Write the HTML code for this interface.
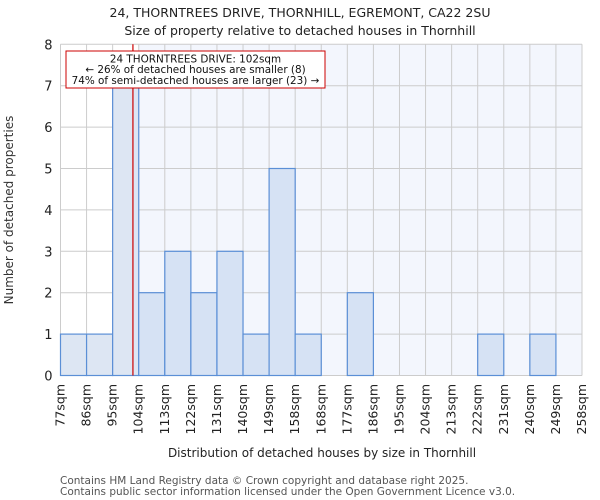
<!DOCTYPE html>
<html><head><meta charset="utf-8"><style>body{margin:0;background:#fff}svg{display:block;font-family:"DejaVu Sans","Liberation Sans",sans-serif}</style></head>
<body>
<svg id="chart" width="600" height="500" xmlns="http://www.w3.org/2000/svg">
<text x="300" y="17" text-anchor="middle" font-size="12.5" fill="#222">24, THORNTREES DRIVE, THORNHILL, EGREMONT, CA22 2SU</text>
<text x="300" y="35" text-anchor="middle" font-size="12.5" fill="#222">Size of property relative to detached houses in Thornhill</text>
<g id="plot"></g>
<text x="322" y="457" text-anchor="middle" font-size="12" fill="#222">Distribution of detached houses by size in Thornhill</text>
<text transform="translate(13,210) rotate(-90)" text-anchor="middle" font-size="12" fill="#333">Number of detached properties</text>
<text x="60" y="484" font-size="10.5" fill="#555">Contains HM Land Registry data © Crown copyright and database right 2025.</text>
<text x="60" y="495" font-size="10.5" fill="#555">Contains public sector information licensed under the Open Government Licence v3.0.</text>
</svg>
<script>
const categories=["77sqm","86sqm","95sqm","104sqm","113sqm","122sqm","131sqm","140sqm","149sqm","158sqm","168sqm","177sqm","186sqm","195sqm","204sqm","213sqm","222sqm","231sqm","240sqm","249sqm","258sqm"];
const counts=[1,1,7,2,3,2,3,1,5,1,0,2,0,0,0,0,1,0,1,0];
const yTicks=[0,1,2,3,4,5,6,7,8];
const propertySize=102;
const binStart=77,binWidth=9;
const X0=60.5,X1=582,Y0=375.5,YT=44.3,NS="http://www.w3.org/2000/svg";
const nb=counts.length,bw=(X1-X0)/nb;
const xi=i=>X0+i*bw;
const xv=v=>X0+(v-binStart)/binWidth*bw;
const y=v=>Y0-(v/8)*(Y0-YT);
const g=document.getElementById('plot');
function el(t,a){const e=document.createElementNS(NS,t);for(const k in a)e.setAttribute(k,a[k]);g.appendChild(e);return e;}
const px=xv(propertySize);
const shadeStart=xi(Math.ceil((propertySize-binStart)/binWidth));
let bg=el('rect',{x:shadeStart,y:YT,width:X1-shadeStart,height:Y0-YT,fill:'#f3f6fd'});


for(let i=0;i<=nb;i++){let l=el('line',{x1:xi(i),x2:xi(i),y1:YT,y2:Y0,stroke:'#cccccc','stroke-width':1});

}
yTicks.forEach(t=>{let l=el('line',{x1:X0,x2:X1,y1:y(t),y2:y(t),stroke:'#cccccc','stroke-width':1});


let tx=el('text',{x:X0-8,y:y(t)+5,'text-anchor':'end','font-size':13,fill:'#222'});tx.textContent=t;

});
counts.forEach((c,i)=>{if(c<=0)return;const left=xi(i+1)<=shadeStart+0.1;
let r=el('rect',{x:xi(i),y:y(c),width:bw,height:Y0-y(c),fill:left?'#dde6f3':'#d6e2f4',stroke:'#5b8fd6','stroke-width':1.2});

});
categories.forEach((c,i)=>{const x=xi(i)+4;let t=el('text',{transform:`translate(${x},384) rotate(-90)`,'text-anchor':'end','font-size':12.5,fill:'#222'});t.textContent=c;

});
let rl=el('line',{x1:px,x2:px,y1:YT,y2:Y0,stroke:'#cc0000','stroke-width':1.2});


let box=el('rect',{x:66,y:51,width:259,height:37,fill:'#fff',stroke:'#cc0000','stroke-width':1});


["24 THORNTREES DRIVE: 102sqm","← 26% of detached houses are smaller (8)","74% of semi-detached houses are larger (23) →"].forEach((s,i)=>{let t=el('text',{x:195.5,y:62.5+i*10.7,'text-anchor':'middle','font-size':10.4,fill:'#111'});t.textContent=s;

});
</script>
</body></html>
